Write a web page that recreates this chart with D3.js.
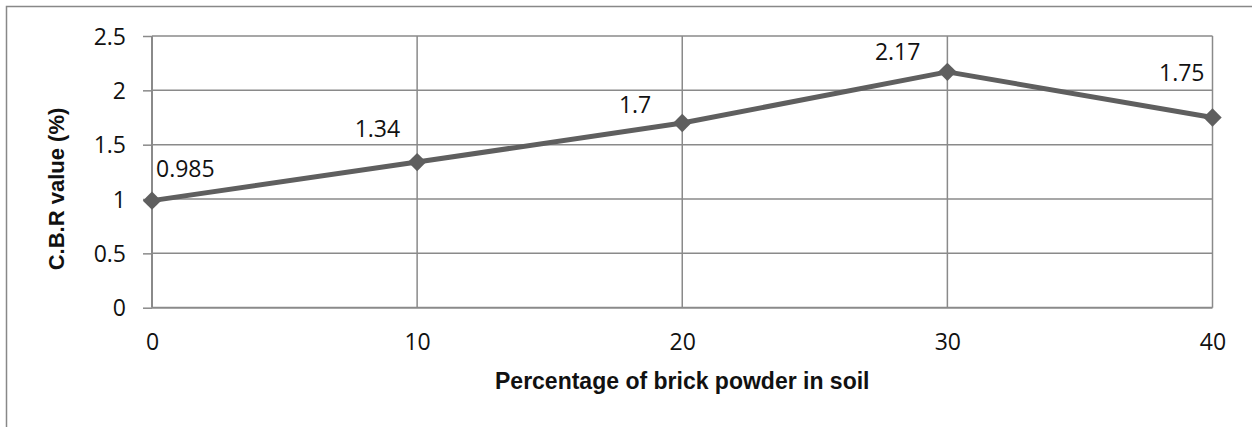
<!DOCTYPE html>
<html>
<head>
<meta charset="utf-8">
<script src="https://cdn.jsdelivr.net/npm/d3@7"></script>
<style>
  html, body { margin: 0; padding: 0; background: #fff; }
  svg { display: block; }
</style>
</head>
<body>
<svg id="chart" width="1252" height="427"></svg>
<script>
// ---- data ----
const categories = [0, 10, 20, 30, 40];          // % brick powder in soil
const cbrValues  = [0.985, 1.34, 1.7, 2.17, 1.75]; // C.B.R value (%)
const labelTexts = ["0.985", "1.34", "1.7", "2.17", "1.75"];
const yTicks     = [0, 0.5, 1, 1.5, 2, 2.5];
const xTicks     = [0, 10, 20, 30, 40];
const xTitle = "Percentage of brick powder in soil";
const yTitle = "C.B.R value (%)";

// ---- layout ----
const svg = d3.select("#chart");
const plot = { left: 152, right: 1212.5, top: 36, bottom: 307.7 };
const gridColor = "#8a8a8a";
const lineColor = "#5f5f5f";
const numFont = "'Open Sans', 'Liberation Sans', Arial, sans-serif";
const titleFont = "'Liberation Sans', Arial, sans-serif";
const numSize = 23;

// outer chart border (extends past the visible area)
svg.append("rect")
  .attr("x", 6.5).attr("y", 6.5)
  .attr("width", 1300).attr("height", 500)
  .attr("fill", "none").attr("stroke", "#888").attr("stroke-width", 1.5);

const x = d3.scaleLinear().domain([0, 40]).range([plot.left, plot.right]);
const y = d3.scaleLinear().domain([0, 2.5]).range([plot.bottom, plot.top]);

// horizontal gridlines
svg.append("g").selectAll("line")
  .data(yTicks.filter(d => d > 0))
  .join("line")
  .attr("x1", plot.left).attr("x2", plot.right)
  .attr("y1", d => y(d)).attr("y2", d => y(d))
  .attr("stroke", gridColor).attr("stroke-width", 1.5);

// vertical gridlines
svg.append("g").selectAll("line")
  .data(xTicks.filter(d => d > 0))
  .join("line")
  .attr("x1", d => x(d)).attr("x2", d => x(d))
  .attr("y1", plot.top).attr("y2", plot.bottom)
  .attr("stroke", gridColor).attr("stroke-width", 1.5);

// y axis
const yAxis = d3.axisLeft(y).tickValues(yTicks).tickSize(9).tickPadding(17)
  .tickFormat(d3.format("~g"));
const gy = svg.append("g").attr("transform", `translate(${plot.left},0)`).call(yAxis);
gy.select(".domain").attr("stroke", gridColor).attr("stroke-width", 2)
  .attr("d", `M0,${plot.top}V${plot.bottom}`);
gy.selectAll(".tick line").attr("stroke", gridColor).attr("stroke-width", 1.5);
gy.selectAll(".tick text")
  .attr("font-family", numFont).attr("font-size", numSize).attr("fill", "#111")
  .attr("dy", "0.36em");

// x axis
const xAxis = d3.axisBottom(x).tickValues(xTicks).tickSize(0).tickPadding(26)
  .tickFormat(d3.format("d"));
const gx = svg.append("g").attr("transform", `translate(0,${plot.bottom})`).call(xAxis);
gx.select(".domain").attr("stroke", gridColor).attr("stroke-width", 2)
  .attr("d", `M${plot.left},0H${plot.right}`);
gx.selectAll(".tick text")
  .attr("font-family", numFont).attr("font-size", numSize).attr("fill", "#111");

// axis titles
svg.append("text")
  .attr("x", (plot.left + plot.right) / 2).attr("y", 389)
  .attr("text-anchor", "middle")
  .attr("font-family", titleFont).attr("font-weight", "bold")
  .attr("font-size", 23).attr("fill", "#111")
  .text(xTitle);

svg.append("text")
  .attr("transform", `translate(64,189) rotate(-90)`)
  .attr("text-anchor", "middle")
  .attr("font-family", titleFont).attr("font-weight", "bold")
  .attr("font-size", 22).attr("fill", "#111")
  .text(yTitle);

// series
const pts = categories.map((c, i) => ({ c, v: cbrValues[i], label: labelTexts[i] }));
svg.append("path")
  .datum(pts)
  .attr("fill", "none").attr("stroke", lineColor).attr("stroke-width", 5)
  .attr("stroke-linejoin", "round")
  .attr("d", d3.line().x(d => x(d.c)).y(d => y(d.v)));

svg.append("g").selectAll("path")
  .data(pts)
  .join("path")
  .attr("transform", d => `translate(${x(d.c)},${y(d.v)}) rotate(45)`)
  .attr("d", "M-6.5,-6.5H6.5V6.5H-6.5Z")
  .attr("fill", lineColor);

// data labels (manually placed in the original)
const labelPlacement = [
  { anchor: "start", dx: 4,   dy: -24 },
  { anchor: "end",   dx: -17, dy: -25 },
  { anchor: "end",   dx: -31, dy: -10 },
  { anchor: "end",   dx: -27, dy: -12 },
  { anchor: "end",   dx: -8,  dy: -37 }
];
svg.append("g").selectAll("text")
  .data(pts)
  .join("text")
  .attr("x", (d, i) => x(d.c) + labelPlacement[i].dx)
  .attr("y", (d, i) => y(d.v) + labelPlacement[i].dy)
  .attr("text-anchor", (d, i) => labelPlacement[i].anchor)
  .attr("font-family", numFont).attr("font-size", numSize).attr("fill", "#111")
  .text(d => d.label);
</script>
</body>
</html>
